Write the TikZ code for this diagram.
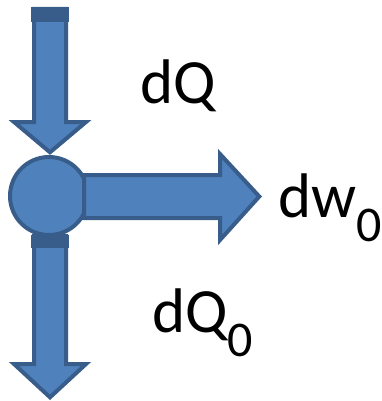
\documentclass[tikz,border=0pt]{standalone}
\usepackage{fontspec}
\setmainfont{Carlito}
\usepackage{tikz}
\usetikzlibrary{positioning,calc}
\definecolor{arrowfill}{HTML}{4F81BD}
\definecolor{arrowline}{HTML}{385D8A}
\tikzset{
  blockarrow/.style={fill=arrowfill, draw=arrowline, line width=4pt, line join=miter},
  hub/.style={circle, fill=arrowfill, draw=arrowline, line width=4pt, minimum size=78pt, inner sep=0pt},
  lbl/.style={anchor=base west, inner sep=0pt, font=\fontsize{63}{70}\selectfont},
}
\newcommand{\subzero}{{\fontsize{50}{50}\selectfont\raisebox{-24pt}{0}}}
\begin{document}
\begin{tikzpicture}[x=1pt,y=-1pt]
    \useasboundingbox (0,0) rectangle (381,401);

    % inflow from above
    \draw[blockarrow] (34,9) -- (66,9) -- (66,122) -- (86,122)
        -- (50,152.3) -- (14,122) -- (34,122) -- cycle;
    \fill[arrowline] (31,7) rectangle (69,22);

    % junction
    \node[hub] (hub) at (49,196) {};

    % outflow downwards
    \draw[blockarrow] (34,236) -- (66,236) -- (66,364) -- (86,364)
        -- (50,397.3) -- (14,364) -- (34,364) -- cycle;
    \fill[arrowline] (31,235) rectangle (69,248);

    % work to the right
    \draw[blockarrow] (84,175) -- (220,175) -- (220,154) -- (259.3,196.5)
        -- (220,240) -- (220,218) -- (84,218) -- cycle;

    % labels
    \node[lbl] (lblQ) at (140,103) {dQ};
    \node[lbl] (lblW) at (278,217) {dw\subzero};
    \node[lbl] (lblQo) at (152,332) {dQ\subzero};
\end{tikzpicture}
\end{document}
